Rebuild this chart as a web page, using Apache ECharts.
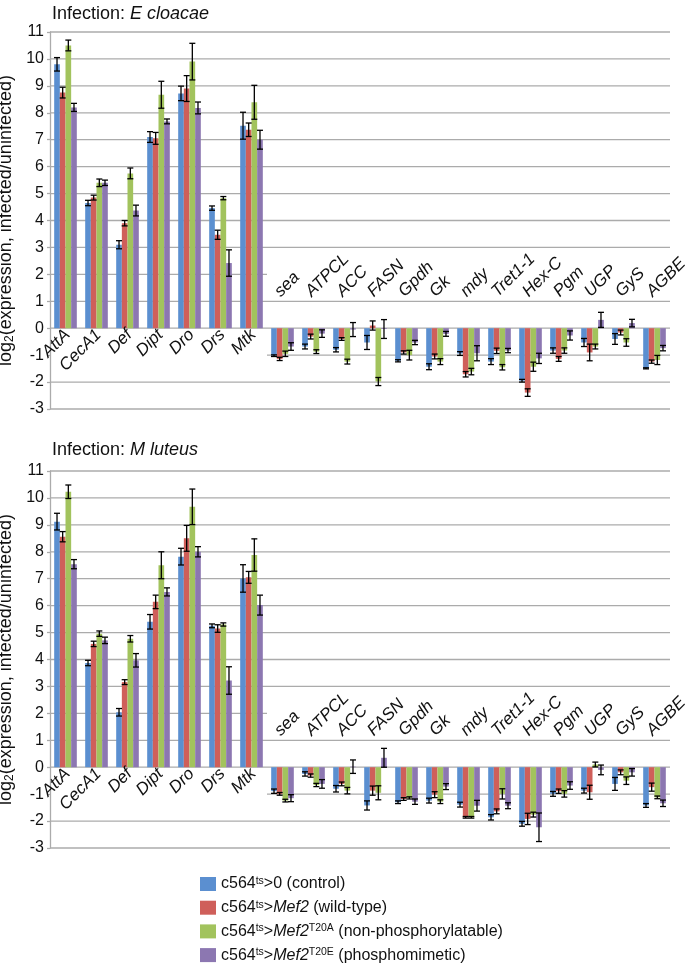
<!DOCTYPE html>
<html><head><meta charset="utf-8">
<script src="https://cdn.jsdelivr.net/npm/echarts@6/dist/echarts.min.js"></script>
<style>html,body{margin:0;padding:0;background:#fff}#c{width:690px;height:965px}</style>
</head><body><div id="c"></div>
<script>
// ---------- data ----------
const categories = ['AttA','CecA1','Def','Dipt','Dro','Drs','Mtk','sea','ATPCL','ACC','FASN','Gpdh','Gk','mdy','Tret1-1','Hex-C','Pgm','UGP','GyS','AGBE'];
const nAmp = 7; // antimicrobial peptide genes: labels drawn under the axis
const yTicks = [-3,-2,-1,0,1,2,3,4,5,6,7,8,9,10,11];
const panelTitles = ['E cloacae', 'M luteus'];
const seriesNames = ['c564ts>0 (control)','c564ts>Mef2 (wild-type)','c564ts>Mef2T20A (non-phosphorylatable)','c564ts>Mef2T20E (phosphomimetic)'];
const legendRich = [
  '{n|c564}{s|ts}{n|>0 (control)}',
  '{n|c564}{s|ts}{n|>}{i|Mef2}{n| (wild-type)}',
  '{n|c564}{s|ts}{n|>}{i|Mef2}{s|T20A}{n| (non-phosphorylatable)}',
  '{n|c564}{s|ts}{n|>}{i|Mef2}{s|T20E}{n| (phosphomimetic)}'
];

// E cloacae
const ecControl    = [9.8, 4.65, 3.1, 7.1, 8.72, 4.46, 7.52, -1.02, -0.68, -0.8, -0.53, -1.21, -1.43, -0.94, -1.24, -1.95, -0.83, -0.53, -0.4, -1.49];
const ecControlErr = [0.25, 0.1, 0.15, 0.2, 0.27, 0.08, 0.5, 0.03, 0.09, 0.08, 0.26, 0.04, 0.11, 0.07, 0.11, 0.05, 0.1, 0.15, 0.2, 0.02];
const ecWT         = [8.75, 4.85, 3.9, 7.05, 8.9, 3.47, 7.37, -1.14, -0.31, -0.4, 0.1, -0.9, -1.05, -1.71, -0.84, -2.39, -1.14, -0.9, -0.16, -1.24];
const ecWTErr      = [0.2, 0.09, 0.1, 0.22, 0.48, 0.17, 0.25, 0.06, 0.09, 0.05, 0.17, 0.06, 0.09, 0.1, 0.1, 0.14, 0.09, 0.31, 0.09, 0.06];
const ecT20A       = [10.5, 5.4, 5.75, 8.67, 9.9, 4.83, 8.39, -0.95, -0.87, -1.24, -1.98, -1.0, -1.24, -1.61, -1.45, -1.43, -0.83, -0.68, -0.53, -1.18];
const ecT20AErr    = [0.2, 0.14, 0.2, 0.5, 0.68, 0.06, 0.63, 0.1, 0.07, 0.09, 0.15, 0.18, 0.11, 0.12, 0.1, 0.17, 0.1, 0.09, 0.14, 0.17];
const ecT20E       = [8.2, 5.4, 4.37, 7.68, 8.18, 2.42, 7.0, -0.68, -0.2, -0.05, -0.03, -0.53, -0.21, -0.93, -0.83, -1.12, -0.27, 0.31, 0.19, -0.74];
const ecT20EErr    = [0.15, 0.1, 0.2, 0.09, 0.22, 0.49, 0.35, 0.14, 0.14, 0.26, 0.35, 0.08, 0.09, 0.28, 0.08, 0.19, 0.17, 0.28, 0.14, 0.1];

// M luteus
const mlControl    = [9.12, 3.87, 2.04, 5.4, 7.82, 5.25, 7.01, -0.89, -0.25, -0.8, -1.42, -1.3, -1.24, -1.39, -1.86, -2.1, -0.99, -0.87, -0.62, -1.42];
const mlControlErr = [0.31, 0.1, 0.14, 0.27, 0.31, 0.07, 0.51, 0.08, 0.08, 0.12, 0.17, 0.05, 0.09, 0.09, 0.1, 0.09, 0.09, 0.09, 0.24, 0.07];
const mlWT         = [8.56, 4.58, 3.16, 6.14, 8.5, 5.15, 7.05, -0.99, -0.31, -0.62, -0.87, -1.18, -1.02, -1.86, -1.64, -1.92, -0.89, -0.93, -0.19, -0.74];
const mlWTErr      = [0.19, 0.1, 0.09, 0.25, 0.48, 0.14, 0.22, 0.05, 0.06, 0.07, 0.17, 0.05, 0.11, 0.03, 0.09, 0.21, 0.08, 0.26, 0.09, 0.15];
const mlT20A       = [10.23, 4.96, 4.77, 7.5, 9.67, 5.3, 7.88, -1.24, -0.66, -0.87, -0.95, -1.14, -1.28, -1.86, -0.99, -1.76, -0.99, 0.1, -0.5, -1.12];
const mlT20AErr    = [0.25, 0.1, 0.12, 0.5, 0.66, 0.06, 0.6, 0.05, 0.06, 0.12, 0.26, 0.04, 0.07, 0.03, 0.19, 0.09, 0.12, 0.09, 0.14, 0.05];
const mlT20E       = [7.54, 4.71, 3.97, 6.51, 8.0, 3.22, 6.02, -1.15, -0.62, 0.02, 0.35, -1.28, -0.72, -1.43, -1.43, -2.23, -0.68, -0.1, -0.19, -1.34];
const mlT20EErr    = [0.17, 0.12, 0.25, 0.15, 0.19, 0.51, 0.37, 0.13, 0.16, 0.25, 0.35, 0.1, 0.11, 0.2, 0.11, 0.53, 0.14, 0.18, 0.14, 0.12];

// ---------- styling / layout ----------
const colors = ['#5B8FD0', '#CF5F5A', '#A2C35D', '#8C77B1'];
const FONT = '"Liberation Sans", Arial, Helvetica, sans-serif';
const gridColor = '#ababab';
const catGap = 0.27;
const grids = [
  {left: 50, right: 20, top: 32, height: 377, outerBoundsMode: 'none', containLabel: false},
  {left: 50, right: 20, top: 471, height: 377, outerBoundsMode: 'none', containLabel: false}
];
const panels = [
  {vals: [ecControl, ecWT, ecT20A, ecT20E], errs: [ecControlErr, ecWTErr, ecT20AErr, ecT20EErr]},
  {vals: [mlControl, mlWT, mlT20A, mlT20E], errs: [mlControlErr, mlWTErr, mlT20AErr, mlT20EErr]}
];

const option = {
  animation: false,
  backgroundColor: '#fff',
  title: panelTitles.map((t, g) => ({
    text: '{n|Infection: }{i|' + t + '}',
    left: 47, top: g === 0 ? 0 : 436,
    textStyle: {fontWeight: 'normal', rich: {
      n: {fontFamily: FONT, fontSize: 18, color: '#111', fontWeight: 'normal'},
      i: {fontFamily: FONT, fontSize: 18, color: '#111', fontStyle: 'italic', fontWeight: 'normal'}
    }}
  })),
  grid: grids,
  legend: {
    orient: 'vertical', left: 200, top: 875.5, padding: 0, itemWidth: 16, itemHeight: 14, itemGap: 7.2,
    icon: 'rect', selectedMode: false, data: seriesNames,
    formatter: name => legendRich[seriesNames.indexOf(name)],
    textStyle: {rich: {
      n: {fontFamily: FONT, fontSize: 16, color: '#111', lineHeight: 17},
      i: {fontFamily: FONT, fontSize: 16, color: '#111', fontStyle: 'italic', lineHeight: 17},
      s: {fontFamily: FONT, fontSize: 10.5, color: '#111', lineHeight: 11, verticalAlign: 'top'}
    }}
  },
  xAxis: [],
  yAxis: [],
  series: []
};

grids.forEach((gr, g) => {
  option.xAxis.push({
    type: 'category', gridIndex: g, data: categories,
    axisLine: {show: false}, axisTick: {show: false}, axisLabel: {show: false}
  });
  option.yAxis.push({
    type: 'value', gridIndex: g, min: yTicks[0], max: yTicks[yTicks.length - 1], interval: 1,
    axisLine: {show: true, lineStyle: {color: gridColor, width: 1.3}},
    axisTick: {show: true, length: 3, lineStyle: {color: gridColor, width: 1.3}},
    splitLine: {show: false},
    axisLabel: {fontFamily: FONT, fontSize: 16, color: '#111', margin: 6},
    name: '{n|log}{b|2}{n|(expression, infected/uninfected)}',
    nameLocation: 'middle', nameGap: 31,
    nameTextStyle: {rich: {
      n: {fontFamily: FONT, fontSize: 18, color: '#111'},
      b: {fontFamily: FONT, fontSize: 12, color: '#111', verticalAlign: 'bottom'}
    }}
  });

  // gridlines (partly hidden where Excel's label area covers them)
  option.series.push({
    type: 'custom', xAxisIndex: g, yAxisIndex: g, silent: true, z: 1,
    data: yTicks.map(v => [0, v]),
    renderItem: (params, api) => {
      const v = api.value(1);
      const bw = api.size([1, 0])[0];
      let i0 = 0, i1 = categories.length - 1;
      if (v === -1) i0 = nAmp;
      if (v === 2) i1 = nAmp - 1;
      const a = api.coord([i0, v]), b = api.coord([i1, v]);
      return {type: 'line', shape: {x1: a[0] - bw / 2, y1: a[1], x2: b[0] + bw / 2, y2: b[1]},
        style: {stroke: gridColor, lineWidth: 1.3}};
    }
  });

  // category labels at the zero line: AMP genes below it, metabolic genes above it
  option.series.push({
    type: 'custom', xAxisIndex: g, yAxisIndex: g, silent: true, z: 4,
    data: categories.map((c, i) => [i, 0]),
    renderItem: (params, api) => {
      const i = api.value(0);
      const p = api.coord([i, 0]);
      const below = i < nAmp;
      return {type: 'text', x: below ? p[0] + 2 : p[0] - 5, y: below ? p[1] + 4 : p[1] - 34, rotation: Math.PI / 4,
        style: {text: categories[i], fontFamily: FONT, fontSize: 17, fontStyle: 'italic', fill: '#111',
          align: below ? 'right' : 'left', verticalAlign: 'middle'}};
    }
  });

  panels[g].vals.forEach((vals, s) => {
    option.series.push({
      type: 'bar', name: seriesNames[s], xAxisIndex: g, yAxisIndex: g, z: 2,
      data: vals, barGap: '0%', barCategoryGap: (catGap * 100) + '%',
      itemStyle: {color: colors[s]}
    });
  });
  panels[g].vals.forEach((vals, s) => {
    const errs = panels[g].errs[s];
    option.series.push({
      type: 'custom', xAxisIndex: g, yAxisIndex: g, silent: true, z: 3,
      data: vals.map((v, i) => [i, v, errs[i]]),
      renderItem: (params, api) => {
        const i = api.value(0), v = api.value(1), e = api.value(2);
        const bw = api.size([1, 0])[0];
        const barW = bw * (1 - catGap) / 4;
        const x = api.coord([i, v])[0] + (s - 1.5) * barW;
        const y1 = api.coord([i, v + e])[1], y2 = api.coord([i, v - e])[1];
        const cw = 3;
        const st = {stroke: '#000', lineWidth: 1.3};
        return {type: 'group', children: [
          {type: 'line', shape: {x1: x, y1: y1, x2: x, y2: y2}, style: st},
          {type: 'line', shape: {x1: x - cw, y1: y1, x2: x + cw, y2: y1}, style: st},
          {type: 'line', shape: {x1: x - cw, y1: y2, x2: x + cw, y2: y2}, style: st}
        ]};
      }
    });
  });
});

const chart = echarts.init(document.getElementById('c'), null, {renderer: 'canvas'});
chart.setOption(option);
</script>
</body></html>
